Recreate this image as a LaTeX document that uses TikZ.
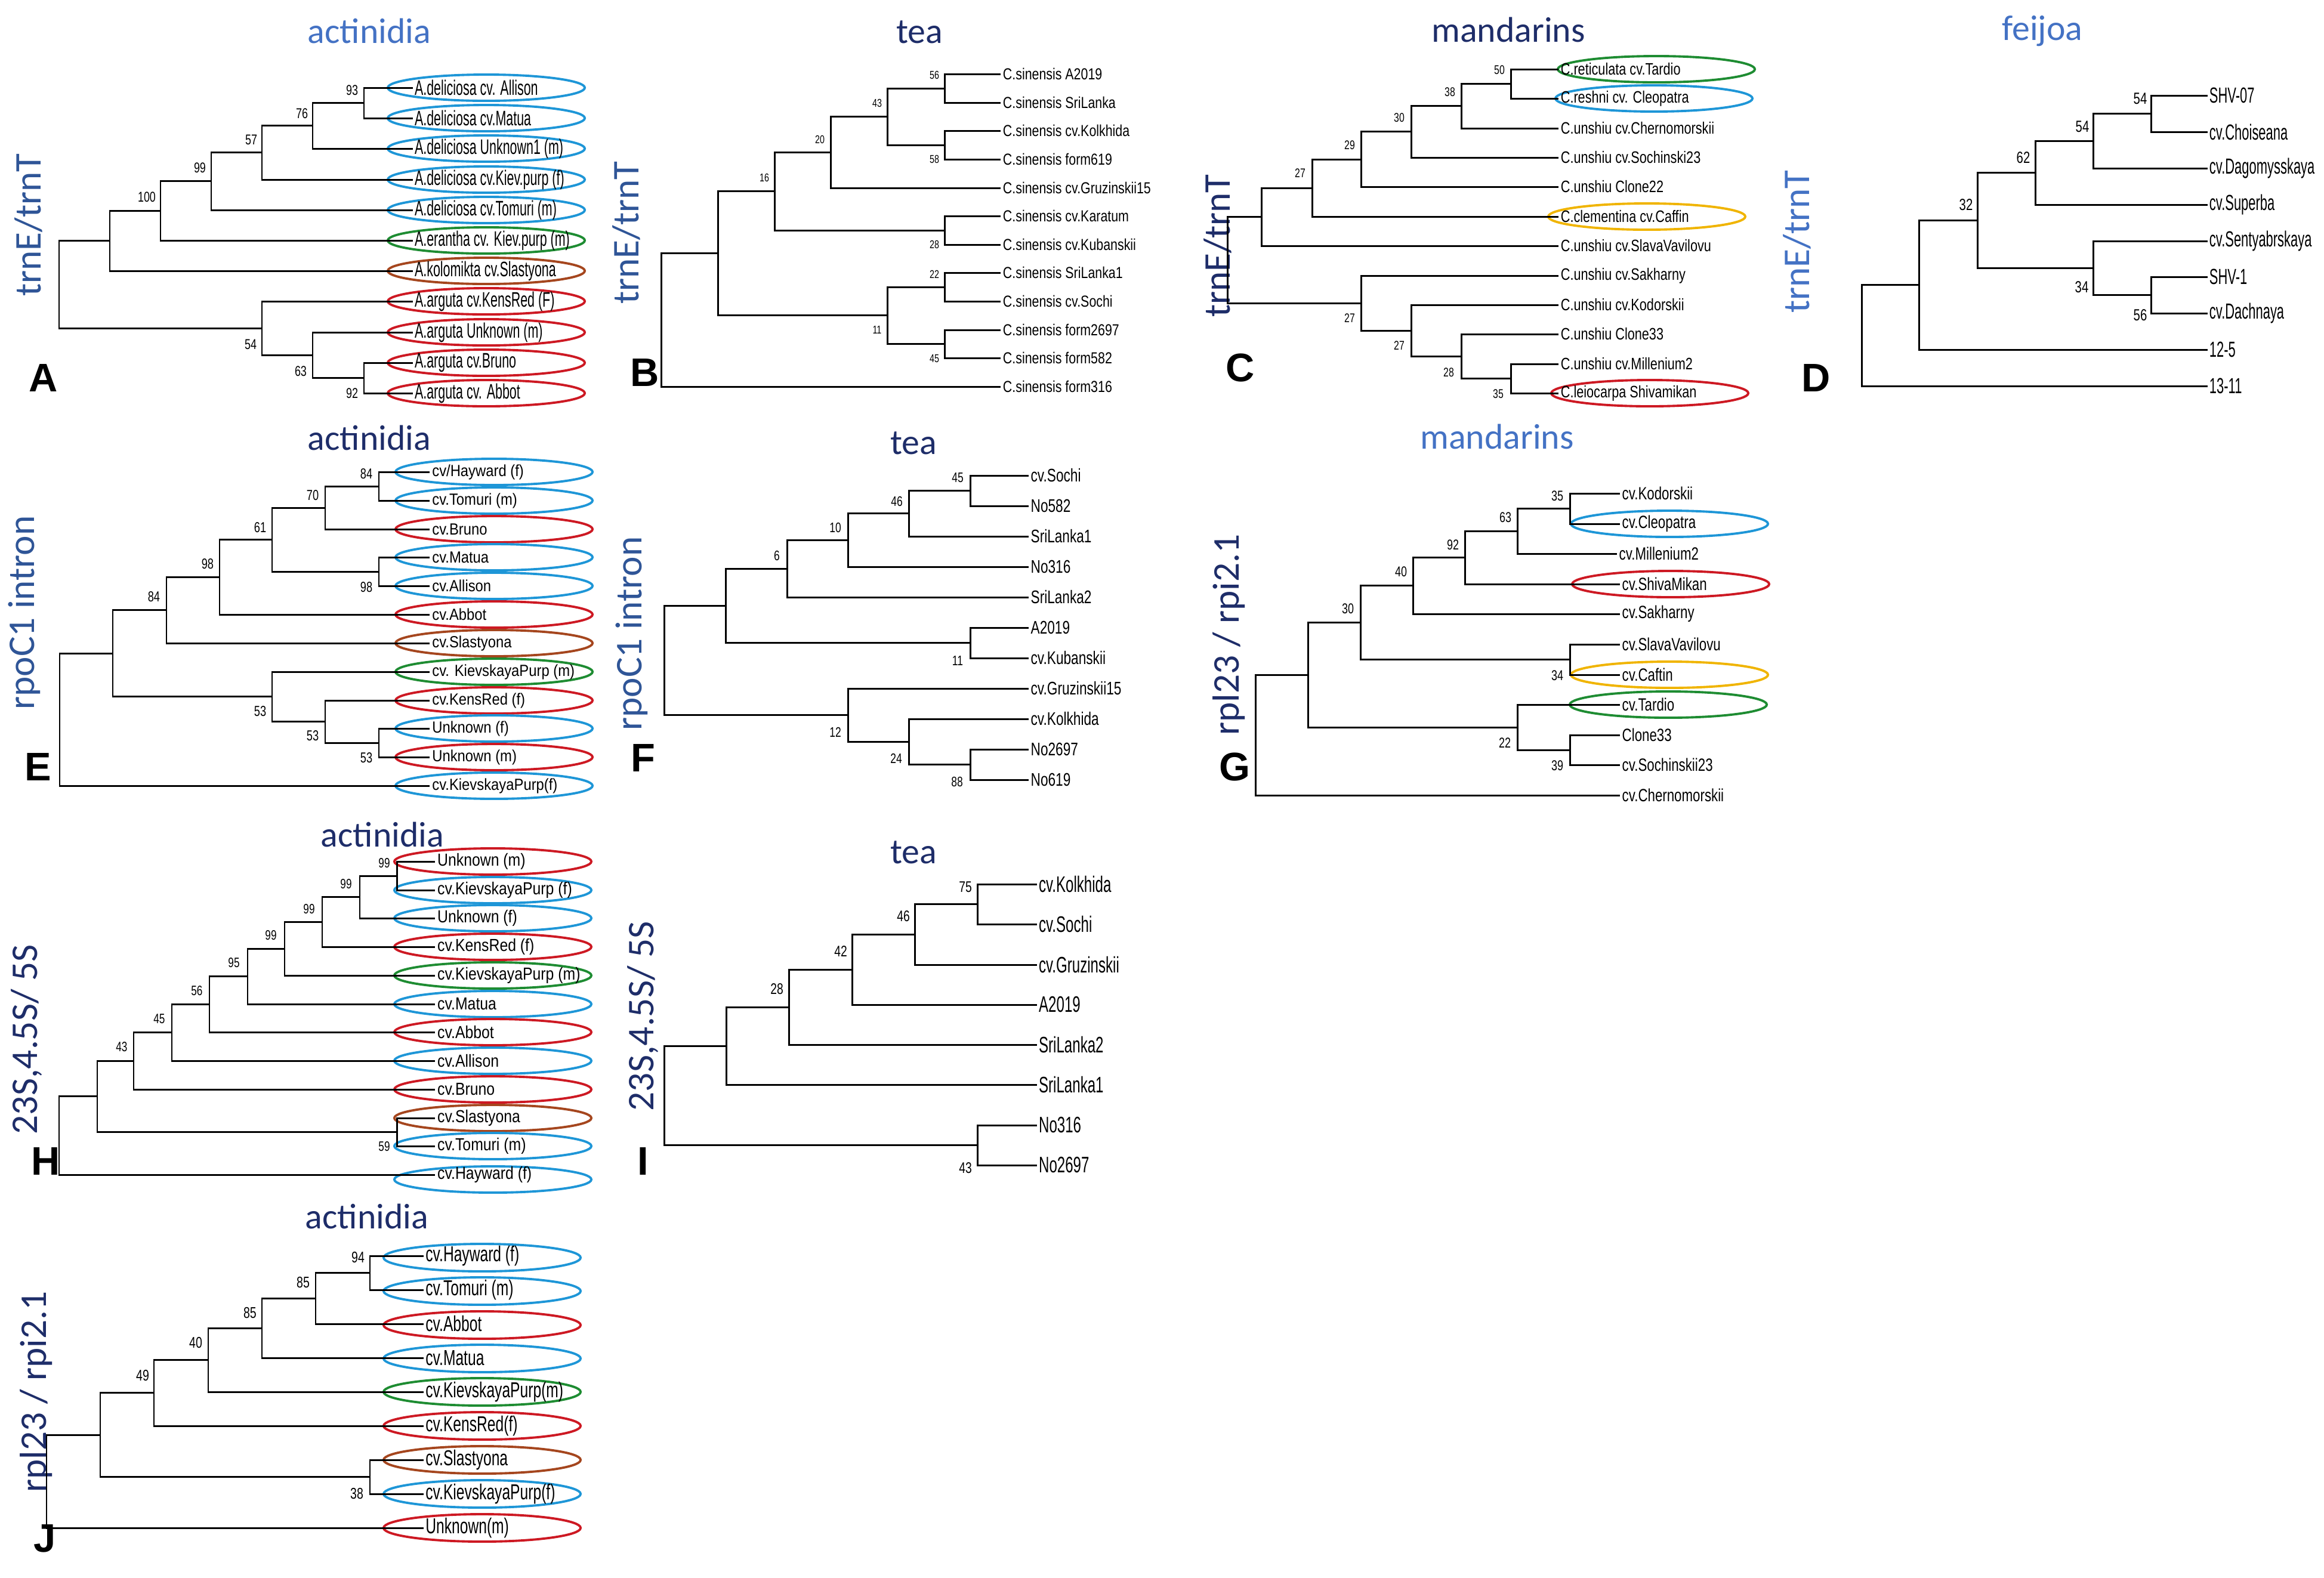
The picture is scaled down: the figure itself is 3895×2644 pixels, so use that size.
\documentclass[tikz,border=0pt]{standalone}
\usepackage{fontspec}
\setmainfont{Liberation Sans}
\newfontfamily\calib{Carlito}
\usepackage{tikz}
\usetikzlibrary{shapes.geometric}
\usepackage{xcolor}
\definecolor{titleblue}{RGB}{68,114,196}
\definecolor{midblue}{RGB}{47,85,151}
\definecolor{navy}{RGB}{30,45,105}
\definecolor{kblue}{RGB}{30,150,215}
\definecolor{kred}{RGB}{205,25,35}
\definecolor{kgreen}{RGB}{30,140,50}
\definecolor{kbrown}{RGB}{165,70,30}
\definecolor{korange}{RGB}{240,180,0}
\def\leafsz{9}\def\leafsx{0.7}\def\bootsz{6.8}
\tikzstyle{branch} = [line width=0.85pt, black]
\tikzstyle{leaf} = [anchor=west, inner sep=1.2pt, xscale=\leafsx, font=\fontsize{\leafsz}{\leafsz}\selectfont]
\tikzstyle{boot} = [inner sep=0pt, xscale=0.75, font=\fontsize{\bootsz}{\bootsz}\selectfont]
\tikzstyle{oval} = [ellipse, line width=1.1pt, minimum width=3.3cm, minimum height=0.44cm, inner sep=0pt]
\tikzstyle{title} = [font=\calib\fontsize{17}{17}\selectfont]
\tikzstyle{side} = [rotate=90, font=\calib\fontsize{18}{18}\selectfont]
\tikzstyle{panel} = [font=\bfseries\fontsize{19}{19}\selectfont]
\begin{document}
\begin{tikzpicture}[x=0.01cm, y=-0.01cm]
      \useasboundingbox (0,0) rectangle (3895,2644);

      \def\leafsz{10}\def\leafsx{0.61}\def\bootsz{6.8}
      \node (titA) [title, text=titleblue] at (619,52) {actinidia};
      \node (sideA) [side, text=midblue] at (48,377) {trnE/trnT};
      \node (labA) [panel] at (73,633) {A};
      \node (oA1) [oval, draw=kblue] at (815,147) {};
      \node (oA2) [oval, draw=kblue] at (815,198) {};
      \node (oA3) [oval, draw=kblue] at (815,249) {};
      \node (oA4) [oval, draw=kblue] at (815,301) {};
      \node (oA5) [oval, draw=kblue] at (815,352) {};
      \node (oA6) [oval, draw=kgreen] at (815,403) {};
      \node (oA7) [oval, draw=kbrown] at (815,454) {};
      \node (oA8) [oval, draw=kred] at (815,505) {};
      \node (oA9) [oval, draw=kred] at (815,557) {};
      \node (oA10) [oval, draw=kred] at (815,608) {};
      \node (oA11) [oval, draw=kred] at (815,659) {};
      \node (A1) [leaf] at (692,147) {A.deliciosa cv. Allison};
      \node (A2) [leaf] at (692,198) {A.deliciosa cv.Matua};
      \node (A3) [leaf] at (692,249) {A.deliciosa Unknown1 (m)};
      \node (A4) [leaf] at (692,301) {A.deliciosa cv.Kiev.purp (f)};
      \node (A5) [leaf] at (692,352) {A.deliciosa cv.Tomuri (m)};
      \node (A6) [leaf] at (692,403) {A.erantha cv. Kiev.purp (m)};
      \node (A7) [leaf] at (692,454) {A.kolomikta cv.Slastyona};
      \node (A8) [leaf] at (692,505) {A.arguta cv.KensRed (F)};
      \node (A9) [leaf] at (692,557) {A.arguta Unknown (m)};
      \node (A10) [leaf] at (692,608) {A.arguta cv.Bruno};
      \node (A11) [leaf] at (692,659) {A.arguta cv. Abbot};
      \coordinate (a93) at (610,172.5);
      \coordinate (a76) at (524,210.75);
      \coordinate (a57) at (439,255.9);
      \coordinate (a99) at (354,303.9);
      \coordinate (a100) at (269,353.5);
      \coordinate (aup) at (184,403.7);
      \coordinate (a92) at (610,633.5);
      \coordinate (a63) at (524,595.2);
      \coordinate (a54) at (439,550.1);
      \coordinate (aroot) at (99,476.9);
      \draw [branch] (A1.west) -| (a93) |- (A2.west);
      \draw [branch] (a93) -| (a76) |- (A3.west);
      \draw [branch] (a76) -| (a57) |- (A4.west);
      \draw [branch] (a57) -| (a99) |- (A5.west);
      \draw [branch] (a99) -| (a100) |- (A6.west);
      \draw [branch] (a100) -| (aup) |- (A7.west);
      \draw [branch] (A10.west) -| (a92) |- (A11.west);
      \draw [branch] (A9.west) -| (a63) |- (a92);
      \draw [branch] (A8.west) -| (a54) |- (a63);
      \draw [branch] (aup) -| (aroot) |- (a54);
      \node (bA93) [boot] at (590,151) {93};
      \node (bA76) [boot] at (506,190) {76};
      \node (bA57) [boot] at (421,234) {57};
      \node (bA99) [boot] at (335,281) {99};
      \node (bA100) [boot] at (246,330) {100};
      \node (bA54) [boot] at (420,577) {54};
      \node (bA63) [boot] at (504,622) {63};
      \node (bA92) [boot] at (590,659) {92};

      \def\leafsz{7.6}\def\leafsx{0.8}\def\bootsz{5.4}
      \node (titB) [title, text=navy] at (1541,54) {tea};
      \node (sideB) [side, text=midblue] at (1050,390) {trnE/trnT};
      \node (labB) [panel] at (1081,624) {B};
      \node (B1) [leaf] at (1677,124) {C.sinensis A2019};
      \node (B2) [leaf] at (1677,172) {C.sinensis SriLanka};
      \node (B3) [leaf] at (1677,219) {C.sinensis cv.Kolkhida};
      \node (B4) [leaf] at (1677,267) {C.sinensis form619};
      \node (B5) [leaf] at (1677,315) {C.sinensis cv.Gruzinskii15};
      \node (B6) [leaf] at (1677,362) {C.sinensis cv.Karatum};
      \node (B7) [leaf] at (1677,410) {C.sinensis cv.Kubanskii};
      \node (B8) [leaf] at (1677,457) {C.sinensis SriLanka1};
      \node (B9) [leaf] at (1677,505) {C.sinensis cv.Sochi};
      \node (B10) [leaf] at (1677,553) {C.sinensis form2697};
      \node (B11) [leaf] at (1677,600) {C.sinensis form582};
      \node (B12) [leaf] at (1677,648) {C.sinensis form316};
      \coordinate (b56) at (1583,148);
      \coordinate (b58) at (1583,243);
      \coordinate (b43) at (1487,195.5);
      \coordinate (b20) at (1392,255.25);
      \coordinate (b28) at (1583,386);
      \coordinate (b16) at (1298,320.6);
      \coordinate (b22) at (1583,481);
      \coordinate (b45) at (1583,576.5);
      \coordinate (b11) at (1487,528.75);
      \coordinate (bup) at (1203,424.7);
      \coordinate (broot) at (1108,536.3);
      \draw [branch] (B1.west) -| (b56) |- (B2.west);
      \draw [branch] (B3.west) -| (b58) |- (B4.west);
      \draw [branch] (b56) -| (b43) |- (b58);
      \draw [branch] (b43) -| (b20) |- (B5.west);
      \draw [branch] (B6.west) -| (b28) |- (B7.west);
      \draw [branch] (b20) -| (b16) |- (b28);
      \draw [branch] (B8.west) -| (b22) |- (B9.west);
      \draw [branch] (B10.west) -| (b45) |- (B11.west);
      \draw [branch] (b22) -| (b11) |- (b45);
      \draw [branch] (b16) -| (bup) |- (b11);
      \draw [branch] (bup) -| (broot) |- (B12.west);
      \node (bB56) [boot] at (1566,126) {56};
      \node (bB43) [boot] at (1470,173) {43};
      \node (bB20) [boot] at (1374,234) {20};
      \node (bB16) [boot] at (1281,298) {16};
      \node (bB58) [boot] at (1566,267) {58};
      \node (bB28) [boot] at (1566,410) {28};
      \node (bB22) [boot] at (1566,460) {22};
      \node (bB11) [boot] at (1470,553) {11};
      \node (bB45) [boot] at (1566,601) {45};

      \def\leafsz{7.9}\def\leafsx{0.78}\def\bootsz{6}
      \node (titC) [title, text=navy] at (2528,50) {mandarins};
      \node (sideC) [side, text=navy] at (2041,412) {trnE/trnT};
      \node (labC) [panel] at (2079,616) {C};
      \node (oC1) [oval, draw=kgreen] at (2776,116) {};
      \node (oC2) [oval, draw=kblue] at (2772,165) {};
      \node (oC6) [oval, draw=korange] at (2760,363) {};
      \node (oC12) [oval, draw=kred] at (2765,659) {};
      \node (C1) [leaf] at (2612,116) {C.reticulata cv.Tardio};
      \node (C2) [leaf] at (2612,165) {C.reshni cv. Cleopatra};
      \node (C3) [leaf] at (2612,215) {C.unshiu cv.Chernomorskii};
      \node (C4) [leaf] at (2612,264) {C.unshiu cv.Sochinski23};
      \node (C5) [leaf] at (2612,313) {C.unshiu Clone22};
      \node (C6) [leaf] at (2612,363) {C.clementina cv.Caffin};
      \node (C7) [leaf] at (2612,412) {C.unshiu cv.SlavaVavilovu};
      \node (C8) [leaf] at (2612,462) {C.unshiu cv.Sakharny};
      \node (C9) [leaf] at (2612,511) {C.unshiu cv.Kodorskii};
      \node (C10) [leaf] at (2612,560) {C.unshiu Clone33};
      \node (C11) [leaf] at (2612,610) {C.unshiu cv.Millenium2};
      \node (C12) [leaf] at (2612,659) {C.leiocarpa Shivamikan};
      \coordinate (c50) at (2532,140.5);
      \coordinate (c38) at (2449,177.75);
      \coordinate (c30) at (2365,220.9);
      \coordinate (c29) at (2281,267);
      \coordinate (c27) at (2199,315);
      \coordinate (cup) at (2114,363.5);
      \coordinate (c35) at (2532,634.5);
      \coordinate (c28) at (2449,597.25);
      \coordinate (c27b) at (2365,554.1);
      \coordinate (c27a) at (2281,508);
      \coordinate (croot) at (2057,435.8);
      \draw [branch] (C1.west) -| (c50) |- (C2.west);
      \draw [branch] (c50) -| (c38) |- (C3.west);
      \draw [branch] (c38) -| (c30) |- (C4.west);
      \draw [branch] (c30) -| (c29) |- (C5.west);
      \draw [branch] (c29) -| (c27) |- (C6.west);
      \draw [branch] (c27) -| (cup) |- (C7.west);
      \draw [branch] (C11.west) -| (c35) |- (C12.west);
      \draw [branch] (C10.west) -| (c28) |- (c35);
      \draw [branch] (C9.west) -| (c27b) |- (c28);
      \draw [branch] (C8.west) -| (c27a) |- (c27b);
      \draw [branch] (cup) -| (croot) |- (c27a);
      \node (bC50) [boot] at (2513,117) {50};
      \node (bC38) [boot] at (2430,154) {38};
      \node (bC30) [boot] at (2345,197) {30};
      \node (bC29) [boot] at (2262,243) {29};
      \node (bC27) [boot] at (2179,290) {27};
      \node (bC27a) [boot] at (2262,533) {27};
      \node (bC27b) [boot] at (2345,579) {27};
      \node (bC28) [boot] at (2428,624) {28};
      \node (bC35) [boot] at (2511,660) {35};

      \def\leafsz{10.4}\def\leafsx{0.6}\def\bootsz{7.7}
      \node (titD) [title, text=titleblue] at (3423,52) {feijoa};
      \node (sideD) [side, text=titleblue] at (3012,405) {trnE/trnT};
      \node (labD) [panel] at (3044,633) {D};
      \node (D1) [leaf] at (3700,160) {SHV-07};
      \node (D2) [leaf] at (3700,221) {cv.Choiseana};
      \node (D3) [leaf] at (3700,282) {cv.Dagomysskaya};
      \node (D4) [leaf] at (3700,343) {cv.Superba};
      \node (D5) [leaf] at (3700,404) {cv.Sentyabrskaya};
      \node (D6) [leaf] at (3700,464) {SHV-1};
      \node (D7) [leaf] at (3700,525) {cv.Dachnaya};
      \node (D8) [leaf] at (3700,586) {12-5};
      \node (D9) [leaf] at (3700,647) {13-11};
      \coordinate (d54a) at (3605,190.5);
      \coordinate (d54b) at (3508,236.25);
      \coordinate (d62) at (3411,289.6);
      \coordinate (d56) at (3605,494.5);
      \coordinate (d34) at (3508,449.25);
      \coordinate (d32) at (3314,369.4);
      \coordinate (dup) at (3216,477.7);
      \coordinate (droot) at (3120,562.4);
      \draw [branch] (D1.west) -| (d54a) |- (D2.west);
      \draw [branch] (d54a) -| (d54b) |- (D3.west);
      \draw [branch] (d54b) -| (d62) |- (D4.west);
      \draw [branch] (D6.west) -| (d56) |- (D7.west);
      \draw [branch] (D5.west) -| (d34) |- (d56);
      \draw [branch] (d62) -| (d32) |- (d34);
      \draw [branch] (d32) -| (dup) |- (D8.west);
      \draw [branch] (dup) -| (droot) |- (D9.west);
      \node (bD54a) [boot] at (3587,165) {54};
      \node (bD54b) [boot] at (3490,212) {54};
      \node (bD62) [boot] at (3391,264) {62};
      \node (bD32) [boot] at (3295,343) {32};
      \node (bD34) [boot] at (3489,481) {34};
      \node (bD56) [boot] at (3587,528) {56};

      \def\leafsz{7.7}\def\leafsx{0.88}\def\bootsz{6.9}
      \node (titE) [title, text=navy] at (619,734) {actinidia};
      \node (sideE) [side, text=midblue] at (41,1027) {rpoC1 intron};
      \node (labE) [panel] at (64,1285) {E};
      \node (oE1) [oval, draw=kblue] at (828,791) {};
      \node (oE2) [oval, draw=kblue] at (828,839) {};
      \node (oE3) [oval, draw=kred] at (828,887) {};
      \node (oE4) [oval, draw=kblue] at (828,934) {};
      \node (oE5) [oval, draw=kblue] at (828,982) {};
      \node (oE6) [oval, draw=kred] at (828,1030) {};
      \node (oE7) [oval, draw=kbrown] at (828,1078) {};
      \node (oE8) [oval, draw=kgreen] at (828,1126) {};
      \node (oE9) [oval, draw=kred] at (828,1174) {};
      \node (oE10) [oval, draw=kblue] at (828,1221) {};
      \node (oE11) [oval, draw=kred] at (828,1269) {};
      \node (oE12) [oval, draw=kblue] at (828,1317) {};
      \node (E1) [leaf] at (720,791) {cv/Hayward (f)};
      \node (E2) [leaf] at (720,839) {cv.Tomuri (m)};
      \node (E3) [leaf] at (720,887) {cv.Bruno};
      \node (E4) [leaf] at (720,934) {cv.Matua};
      \node (E5) [leaf] at (720,982) {cv.Allison};
      \node (E6) [leaf] at (720,1030) {cv.Abbot};
      \node (E7) [leaf] at (720,1078) {cv.Slastyona};
      \node (E8) [leaf] at (720,1126) {cv. KievskayaPurp (m)};
      \node (E9) [leaf] at (720,1174) {cv.KensRed (f)};
      \node (E10) [leaf] at (720,1221) {Unknown (f)};
      \node (E11) [leaf] at (720,1269) {Unknown (m)};
      \node (E12) [leaf] at (720,1317) {cv.KievskayaPurp(f)};
      \coordinate (e84b) at (635,815);
      \coordinate (e70) at (545,851);
      \coordinate (e98b) at (635,958);
      \coordinate (e61) at (456,904.5);
      \coordinate (e98) at (368,967.25);
      \coordinate (e84) at (279,1022.6);
      \coordinate (e53c) at (635,1245);
      \coordinate (e53b) at (545,1209.5);
      \coordinate (e53) at (456,1167.75);
      \coordinate (eup) at (189,1095.2);
      \coordinate (eroot) at (100,1206.1);
      \draw [branch] (E1.west) -| (e84b) |- (E2.west);
      \draw [branch] (e84b) -| (e70) |- (E3.west);
      \draw [branch] (E4.west) -| (e98b) |- (E5.west);
      \draw [branch] (e70) -| (e61) |- (e98b);
      \draw [branch] (e61) -| (e98) |- (E6.west);
      \draw [branch] (e98) -| (e84) |- (E7.west);
      \draw [branch] (E10.west) -| (e53c) |- (E11.west);
      \draw [branch] (E9.west) -| (e53b) |- (e53c);
      \draw [branch] (E8.west) -| (e53) |- (e53b);
      \draw [branch] (e84) -| (eup) |- (e53);
      \draw [branch] (eup) -| (eroot) |- (E12.west);
      \node (bE84b) [boot] at (614,794) {84};
      \node (bE70) [boot] at (524,830) {70};
      \node (bE61) [boot] at (436,884) {61};
      \node (bE98) [boot] at (348,945) {98};
      \node (bE84) [boot] at (258,1000) {84};
      \node (bE98b) [boot] at (614,984) {98};
      \node (bE53) [boot] at (436,1192) {53};
      \node (bE53b) [boot] at (524,1233) {53};
      \node (bE53c) [boot] at (614,1270) {53};

      \def\leafsz{8.7}\def\leafsx{0.74}\def\bootsz{6.6}
      \node (titF) [title, text=navy] at (1531,743) {tea};
      \node (sideF) [side, text=midblue] at (1059,1062) {rpoC1 intron};
      \node (labF) [panel] at (1078,1270) {F};
      \node (F1) [leaf] at (1724,797) {cv.Sochi};
      \node (F2) [leaf] at (1724,848) {No582};
      \node (F3) [leaf] at (1724,899) {SriLanka1};
      \node (F4) [leaf] at (1724,950) {No316};
      \node (F5) [leaf] at (1724,1001) {SriLanka2};
      \node (F6) [leaf] at (1724,1052) {A2019};
      \node (F7) [leaf] at (1724,1103) {cv.Kubanskii};
      \node (F8) [leaf] at (1724,1154) {cv.Gruzinskii15};
      \node (F9) [leaf] at (1724,1205) {cv.Kolkhida};
      \node (F10) [leaf] at (1724,1256) {No2697};
      \node (F11) [leaf] at (1724,1307) {No619};
      \coordinate (f45) at (1626,822.5);
      \coordinate (f46) at (1523,860.75);
      \coordinate (f10) at (1421,905.4);
      \coordinate (f6) at (1319,953.2);
      \coordinate (f11) at (1626,1077.5);
      \coordinate (fup) at (1216,1015.35);
      \coordinate (f88) at (1626,1281.5);
      \coordinate (f24) at (1523,1243.25);
      \coordinate (f12) at (1421,1198.6);
      \coordinate (froot) at (1113,1107);
      \draw [branch] (F1.west) -| (f45) |- (F2.west);
      \draw [branch] (f45) -| (f46) |- (F3.west);
      \draw [branch] (f46) -| (f10) |- (F4.west);
      \draw [branch] (f10) -| (f6) |- (F5.west);
      \draw [branch] (F6.west) -| (f11) |- (F7.west);
      \draw [branch] (f6) -| (fup) |- (f11);
      \draw [branch] (F10.west) -| (f88) |- (F11.west);
      \draw [branch] (F9.west) -| (f24) |- (f88);
      \draw [branch] (F8.west) -| (f12) |- (f24);
      \draw [branch] (fup) -| (froot) |- (f12);
      \node (bF45) [boot] at (1605,801) {45};
      \node (bF46) [boot] at (1503,840) {46};
      \node (bF10) [boot] at (1400,884) {10};
      \node (bF6) [boot] at (1302,931) {6};
      \node (bF11) [boot] at (1605,1107) {11};
      \node (bF12) [boot] at (1400,1227) {12};
      \node (bF24) [boot] at (1502,1271) {24};
      \node (bF88) [boot] at (1604,1310) {88};

      \def\leafsz{8.45}\def\leafsx{0.75}\def\bootsz{6.8}
      \node (titG) [title, text=titleblue] at (2509,732) {mandarins};
      \node (sideG) [side, text=navy] at (2060,1064) {rpl23 / rpi2.1};
      \node (labG) [panel] at (2069,1285) {G};
      \node (oG2) [oval, draw=kblue] at (2798,878) {};
      \node (oG4) [oval, draw=kred] at (2800,979) {};
      \node (oG7) [oval, draw=korange] at (2798,1131) {};
      \node (oG8) [oval, draw=kgreen] at (2796,1181) {};
      \node (G1) [leaf] at (2715,827) {cv.Kodorskii};
      \node (G2) [leaf] at (2715,878) {cv.Cleopatra};
      \node (G3) [leaf] at (2710,928) {cv.Millenium2};
      \node (G4) [leaf] at (2715,979) {cv.ShivaMikan};
      \node (G5) [leaf] at (2715,1029) {cv.Sakharny};
      \node (G6) [leaf] at (2715,1080) {cv.SlavaVavilovu};
      \node (G7) [leaf] at (2715,1131) {cv.Caftin};
      \node (G8) [leaf] at (2715,1181) {cv.Tardio};
      \node (G9) [leaf] at (2715,1232) {Clone33};
      \node (G10) [leaf] at (2715,1282) {cv.Sochinskii23};
      \node (G11) [leaf] at (2715,1333) {cv.Chernomorskii};
      \coordinate (g35) at (2631,852.5);
      \coordinate (g63) at (2543,890.25);
      \coordinate (g92) at (2455,934.6);
      \coordinate (g40) at (2368,981.8);
      \coordinate (g34) at (2631,1105.5);
      \coordinate (g30) at (2280,1043.65);
      \coordinate (g39) at (2631,1257);
      \coordinate (g22) at (2543,1219);
      \coordinate (gup) at (2192,1131.3);
      \coordinate (groot) at (2104,1232.2);
      \draw [branch] (G1.west) -| (g35) |- (G2.west);
      \draw [branch] (g35) -| (g63) |- (G3.west);
      \draw [branch] (g63) -| (g92) |- (G4.west);
      \draw [branch] (g92) -| (g40) |- (G5.west);
      \draw [branch] (G6.west) -| (g34) |- (G7.west);
      \draw [branch] (g40) -| (g30) |- (g34);
      \draw [branch] (G9.west) -| (g39) |- (G10.west);
      \draw [branch] (G8.west) -| (g22) |- (g39);
      \draw [branch] (g30) -| (gup) |- (g22);
      \draw [branch] (gup) -| (groot) |- (G11.west);
      \node (bG35) [boot] at (2610,831) {35};
      \node (bG63) [boot] at (2523,867) {63};
      \node (bG92) [boot] at (2435,913) {92};
      \node (bG40) [boot] at (2348,958) {40};
      \node (bG30) [boot] at (2259,1020) {30};
      \node (bG34) [boot] at (2610,1132) {34};
      \node (bG22) [boot] at (2522,1245) {22};
      \node (bG39) [boot] at (2610,1283) {39};

      \def\leafsz{8.3}\def\leafsx{0.85}\def\bootsz{6.5}
      \node (titH) [title, text=navy] at (641,1399) {actinidia};
      \node (sideH) [side, text=navy] at (45,1742) {23S,4.5S/ 5S};
      \node (labH) [panel] at (77,1946) {H};
      \node (oH1) [oval, draw=kred] at (826,1444) {};
      \node (oH2) [oval, draw=kblue] at (826,1492) {};
      \node (oH3) [oval, draw=kblue] at (826,1539) {};
      \node (oH4) [oval, draw=kred] at (826,1587) {};
      \node (oH5) [oval, draw=kgreen] at (826,1635) {};
      \node (oH6) [oval, draw=kblue] at (826,1683) {};
      \node (oH7) [oval, draw=kred] at (826,1730) {};
      \node (oH8) [oval, draw=kblue] at (826,1778) {};
      \node (oH9) [oval, draw=kred] at (826,1826) {};
      \node (oH10) [oval, draw=kbrown] at (826,1874) {};
      \node (oH11) [oval, draw=kblue] at (826,1921) {};
      \node (oH12) [oval, draw=kblue] at (826,1977) {};
      \node (H1) [leaf] at (729,1444) {Unknown (m)};
      \node (H2) [leaf] at (729,1492) {cv.KievskayaPurp (f)};
      \node (H3) [leaf] at (729,1539) {Unknown (f)};
      \node (H4) [leaf] at (729,1587) {cv.KensRed (f)};
      \node (H5) [leaf] at (729,1635) {cv.KievskayaPurp (m)};
      \node (H6) [leaf] at (729,1683) {cv.Matua};
      \node (H7) [leaf] at (729,1730) {cv.Abbot};
      \node (H8) [leaf] at (729,1778) {cv.Allison};
      \node (H9) [leaf] at (729,1826) {cv.Bruno};
      \node (H10) [leaf] at (729,1874) {cv.Slastyona};
      \node (H11) [leaf] at (729,1921) {cv.Tomuri (m)};
      \node (H12) [leaf] at (729,1969) {cv.Hayward (f)};
      \coordinate (h99d) at (665,1468);
      \coordinate (h99c) at (603,1503.5);
      \coordinate (h99b) at (540,1545.25);
      \coordinate (h99a) at (477,1590.1);
      \coordinate (h95) at (415,1636.6);
      \coordinate (h56) at (351,1683.3);
      \coordinate (h45) at (288,1730.6);
      \coordinate (h43) at (224,1778.3);
      \coordinate (h59) at (665,1897.5);
      \coordinate (hup) at (163,1837.9);
      \coordinate (hroot) at (99,1903.5);
      \draw [branch] (H1.west) -| (h99d) |- (H2.west);
      \draw [branch] (h99d) -| (h99c) |- (H3.west);
      \draw [branch] (h99c) -| (h99b) |- (H4.west);
      \draw [branch] (h99b) -| (h99a) |- (H5.west);
      \draw [branch] (h99a) -| (h95) |- (H6.west);
      \draw [branch] (h95) -| (h56) |- (H7.west);
      \draw [branch] (h56) -| (h45) |- (H8.west);
      \draw [branch] (h45) -| (h43) |- (H9.west);
      \draw [branch] (H10.west) -| (h59) |- (H11.west);
      \draw [branch] (h43) -| (hup) |- (h59);
      \draw [branch] (hup) -| (hroot) |- (H12.west);
      \node (bH99d) [boot] at (644,1447) {99};
      \node (bH99c) [boot] at (580,1482) {99};
      \node (bH99b) [boot] at (518,1524) {99};
      \node (bH99a) [boot] at (454,1568) {99};
      \node (bH95) [boot] at (392,1614) {95};
      \node (bH56) [boot] at (330,1661) {56};
      \node (bH45) [boot] at (267,1708) {45};
      \node (bH43) [boot] at (204,1755) {43};
      \node (bH59) [boot] at (644,1922) {59};

      \def\leafsz{10.7}\def\leafsx{0.64}\def\bootsz{7.3}
      \node (titI) [title, text=navy] at (1531,1429) {tea};
      \node (sideI) [side, text=navy] at (1078,1703) {23S,4.5S/ 5S};
      \node (labI) [panel] at (1078,1946) {I};
      \node (I1) [leaf] at (1738,1482) {cv.Kolkhida};
      \node (I2) [leaf] at (1738,1549) {cv.Sochi};
      \node (I3) [leaf] at (1738,1617) {cv.Gruzinskii};
      \node (I4) [leaf] at (1738,1684) {A2019};
      \node (I5) [leaf] at (1738,1751) {SriLanka2};
      \node (I6) [leaf] at (1738,1818) {SriLanka1};
      \node (I7) [leaf] at (1738,1886) {No316};
      \node (I8) [leaf] at (1738,1953) {No2697};
      \coordinate (i75) at (1638,1515.5);
      \coordinate (i46) at (1533,1566.25);
      \coordinate (i42) at (1428,1625.1);
      \coordinate (i28) at (1322,1688.05);
      \coordinate (iup) at (1217,1753);
      \coordinate (i43) at (1638,1919.5);
      \coordinate (iroot) at (1113,1836.25);
      \draw [branch] (I1.west) -| (i75) |- (I2.west);
      \draw [branch] (i75) -| (i46) |- (I3.west);
      \draw [branch] (i46) -| (i42) |- (I4.west);
      \draw [branch] (i42) -| (i28) |- (I5.west);
      \draw [branch] (i28) -| (iup) |- (I6.west);
      \draw [branch] (I7.west) -| (i43) |- (I8.west);
      \draw [branch] (iup) -| (iroot) |- (i43);
      \node (bI75) [boot] at (1618,1487) {75};
      \node (bI46) [boot] at (1514,1536) {46};
      \node (bI42) [boot] at (1409,1595) {42};
      \node (bI28) [boot] at (1302,1658) {28};
      \node (bI43) [boot] at (1618,1958) {43};

      \def\leafsz{10.3}\def\leafsx{0.68}\def\bootsz{7.4}
      \node (titJ) [title, text=navy] at (615,2039) {actinidia};
      \node (sideJ) [side, text=navy] at (61,2333) {rpl23 / rpi2.1};
      \node (labJ) [panel] at (75,2579) {J};
      \node (oJ1) [oval, draw=kblue, minimum height=0.46cm] at (808,2108) {};
      \node (oJ2) [oval, draw=kblue, minimum height=0.46cm] at (808,2164) {};
      \node (oJ3) [oval, draw=kred, minimum height=0.46cm] at (808,2221) {};
      \node (oJ4) [oval, draw=kblue, minimum height=0.46cm] at (808,2277) {};
      \node (oJ5) [oval, draw=kgreen, minimum height=0.46cm] at (808,2333) {};
      \node (oJ6) [oval, draw=kred, minimum height=0.46cm] at (808,2390) {};
      \node (oJ7) [oval, draw=kbrown, minimum height=0.46cm] at (808,2447) {};
      \node (oJ8) [oval, draw=kblue, minimum height=0.46cm] at (808,2504) {};
      \node (oJ9) [oval, draw=kred, minimum height=0.46cm] at (808,2561) {};
      \node (J1) [leaf] at (710,2105) {cv.Hayward (f)};
      \node (J2) [leaf] at (710,2162) {cv.Tomuri (m)};
      \node (J3) [leaf] at (710,2219) {cv.Abbot};
      \node (J4) [leaf] at (710,2276) {cv.Matua};
      \node (J5) [leaf] at (710,2333) {cv.KievskayaPurp(m)};
      \node (J6) [leaf] at (710,2390) {cv.KensRed(f)};
      \node (J7) [leaf] at (710,2447) {cv.Slastyona};
      \node (J8) [leaf] at (710,2504) {cv.KievskayaPurp(f)};
      \node (J9) [leaf] at (710,2561) {Unknown(m)};
      \coordinate (j94) at (620,2133.5);
      \coordinate (j85b) at (529,2176.25);
      \coordinate (j85a) at (439,2226.1);
      \coordinate (j40) at (349,2279.6);
      \coordinate (j49) at (258,2334.8);
      \coordinate (j38) at (620,2475.5);
      \coordinate (jup) at (168,2405.1);
      \coordinate (jroot) at (78,2483);
      \draw [branch] (J1.west) -| (j94) |- (J2.west);
      \draw [branch] (j94) -| (j85b) |- (J3.west);
      \draw [branch] (j85b) -| (j85a) |- (J4.west);
      \draw [branch] (j85a) -| (j40) |- (J5.west);
      \draw [branch] (j40) -| (j49) |- (J6.west);
      \draw [branch] (J7.west) -| (j38) |- (J8.west);
      \draw [branch] (j49) -| (jup) |- (j38);
      \draw [branch] (jup) -| (jroot) |- (J9.west);
      \node (bJ94) [boot] at (600,2108) {94};
      \node (bJ85b) [boot] at (508,2150) {85};
      \node (bJ85a) [boot] at (419,2201) {85};
      \node (bJ40) [boot] at (328,2251) {40};
      \node (bJ49) [boot] at (239,2306) {49};
      \node (bJ38) [boot] at (598,2504) {38};
    \end{tikzpicture}
\end{document}
